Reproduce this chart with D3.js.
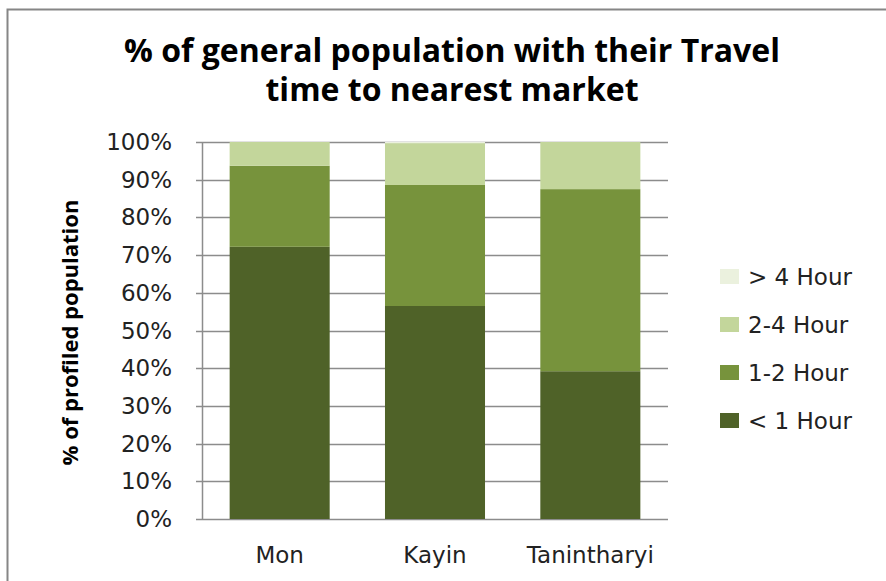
<!DOCTYPE html>
<html>
<head>
<meta charset="utf-8">
<script src="https://cdn.jsdelivr.net/npm/d3@7"></script>
<style>
  html, body { margin: 0; padding: 0; background: #fff; }
  svg { display: block; }
</style>
</head>
<body>
<svg id="chart"></svg>
<script>
// Data
const regions = ["Mon", "Kayin", "Tanintharyi"];
const seriesNames = ["< 1 Hour", "1-2 Hour", "2-4 Hour", "> 4 Hour"];
const lessThan1 = [72.2, 56.5, 39.2];
const oneToTwo = [21.5, 32.1, 48.3];
const twoToFour = [6.3, 11.1, 12.5];
const moreThan4 = [0, 0.3, 0];
const yTicks = [0, 10, 20, 30, 40, 50, 60, 70, 80, 90, 100];

const colors = ["#4f6228", "#77933c", "#c3d69b", "#ebf1de"];

const width = 886, height = 581;
const margin = {top: 142, right: 218, bottom: 62, left: 202};

const rows = regions.map((r, i) => ({
  region: r,
  0: lessThan1[i], 1: oneToTwo[i], 2: twoToFour[i], 3: moreThan4[i]
}));
const layers = d3.stack().keys([0, 1, 2, 3])(rows);

// scales work in page coordinates so no text sits in a shifted group
const x = d3.scaleBand(regions, [margin.left, width - margin.right])
  .paddingInner(0.356).paddingOuter(0.178);
const y = d3.scaleLinear([0, 100], [height - margin.bottom, margin.top]);

const labelFont = "'DejaVu Sans', sans-serif";

const svg = d3.select("#chart")
  .attr("width", width)
  .attr("height", height);

svg.append("rect")
  .attr("width", width).attr("height", height)
  .attr("fill", "#fff");

// chart border, only left and top edges show in the picture
svg.append("path")
  .attr("d", `M7.5,${height}V9.5H${width}`)
  .attr("fill", "none")
  .attr("stroke", "#868686")
  .attr("stroke-width", 2);

// Title
const title = svg.append("text")
  .attr("text-anchor", "middle")
  .style("font-family", "'Open Sans', sans-serif")
  .style("font-weight", "bold")
  .style("font-size", "32px")
  .attr("fill", "#000");
title.append("tspan").attr("x", 452).attr("y", 62).text("% of general population  with their Travel");
title.append("tspan").attr("x", 452).attr("y", 101).text("time to nearest market");

// gridlines
svg.append("g")
  .selectAll("line")
  .data(yTicks)
  .join("line")
  .attr("x1", margin.left - 6)
  .attr("x2", width - margin.right)
  .attr("y1", d => Math.round(y(d)) + 0.5)
  .attr("y2", d => Math.round(y(d)) + 0.5)
  .attr("stroke", "#8c8c8c")
  .attr("stroke-width", 1.5);

// bars
svg.append("g")
  .selectAll("g")
  .data(layers)
  .join("g")
  .attr("fill", (d, i) => colors[i])
  .selectAll("rect")
  .data(d => d)
  .join("rect")
  .attr("x", d => x(d.data.region))
  .attr("width", x.bandwidth())
  .attr("y", d => y(d[1]))
  .attr("height", d => y(d[0]) - y(d[1]));

// y axis line
svg.append("line")
  .attr("x1", margin.left + 0.5).attr("x2", margin.left + 0.5)
  .attr("y1", y(100)).attr("y2", y(0))
  .attr("stroke", "#8c8c8c")
  .attr("stroke-width", 1.5);

// y tick labels
svg.append("g")
  .selectAll("text")
  .data(yTicks)
  .join("text")
  .attr("x", margin.left - 30)
  .attr("y", d => y(d) + 8)
  .attr("text-anchor", "end")
  .style("font-family", labelFont)
  .style("font-size", "23px")
  .attr("fill", "#222")
  .text(d => d + "%");

// x labels
svg.append("g")
  .selectAll("text")
  .data(regions)
  .join("text")
  .attr("x", d => x(d) + x.bandwidth() / 2)
  .attr("y", y(0) + 44)
  .attr("text-anchor", "middle")
  .style("font-family", labelFont)
  .style("font-size", "23px")
  .attr("fill", "#222")
  .text(d => d);

// y axis title
const yTitleY = (y(0) + y(100)) / 2 + 2;
svg.append("text")
  .attr("x", 78)
  .attr("y", yTitleY)
  .attr("transform", `rotate(-90, 78, ${yTitleY})`)
  .attr("text-anchor", "middle")
  .style("font-family", "'Open Sans', sans-serif")
  .style("font-weight", "bold")
  .style("font-size", "22px")
  .attr("fill", "#000")
  .text("% of profiled population");

// legend, top item is > 4 Hour
const legendData = seriesNames.map((n, i) => ({name: n, color: colors[i]})).reverse();
const legendX = 720, legendY = 277, legendStep = 48;
const legend = svg.append("g");
legend.selectAll("rect")
  .data(legendData)
  .join("rect")
  .attr("x", legendX)
  .attr("y", (d, i) => legendY + i * legendStep - 8)
  .attr("width", 19).attr("height", 15)
  .attr("fill", d => d.color);
legend.selectAll("text")
  .data(legendData)
  .join("text")
  .attr("x", legendX + 28)
  .attr("y", (d, i) => legendY + i * legendStep + 8)
  .style("font-family", labelFont)
  .style("font-size", "23px")
  .attr("fill", "#222")
  .text(d => d.name);
</script>
</body>
</html>
